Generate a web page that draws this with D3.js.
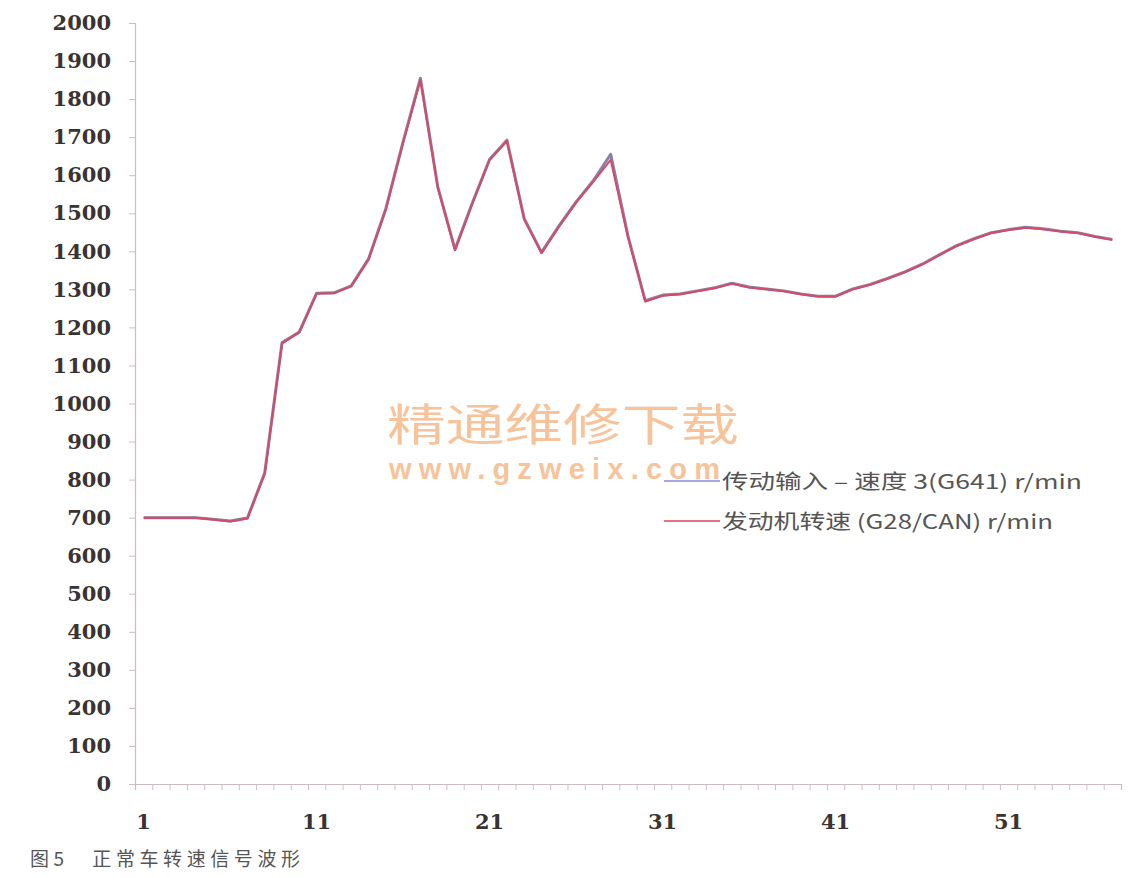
<!DOCTYPE html>
<html>
<head>
<meta charset="utf-8">
<script src="https://cdn.jsdelivr.net/npm/d3@7"></script>
<style>
  html, body { margin: 0; padding: 0; background: #fff; }
  svg { display: block; }
</style>
</head>
<body>
<svg id="chart" width="1128" height="878"></svg>
<script>
// ---- data ----
const categories = [1,2,3,4,5,6,7,8,9,10,11,12,13,14,15,16,17,18,19,20,21,22,23,24,25,26,27,28,29,30,31,32,33,34,35,36,37,38,39,40,41,42,43,44,45,46,47,48,49,50,51,52,53,54,55,56,57];
const transmissionSpeed = [700,700,700,700,696,691,699,818,1160,1188,1290,1291,1309,1380,1512,1688,1855,1570,1405,1527,1642,1692,1486,1397,1466,1530,1586,1655,1440,1270,1285,1288,1296,1304,1316,1306,1301,1296,1288,1282,1282,1301,1313,1329,1346,1366,1391,1415,1433,1449,1457,1463,1459,1453,1449,1439,1431];
const engineSpeed = [700,700,700,700,695,690,698,815,1158,1187,1289,1290,1308,1378,1510,1685,1850,1568,1403,1525,1640,1690,1484,1395,1464,1528,1583,1640,1437,1268,1283,1287,1295,1303,1315,1305,1300,1295,1287,1281,1281,1300,1312,1328,1345,1365,1390,1414,1432,1448,1456,1462,1458,1452,1448,1438,1430];
const seriesNames = ["传动输入 – 速度 3(G641) r/min", "发动机转速 (G28/CAN) r/min"];
const yTicks = [0,100,200,300,400,500,600,700,800,900,1000,1100,1200,1300,1400,1500,1600,1700,1800,1900,2000];
const xTickLabels = [1,11,21,31,41,51];
const caption = "图5　正常车转速信号波形";
const watermark1 = "精通维修下载";
const watermark2 = "www.gzweix.com";

// ---- layout ----
const svg = d3.select("#chart");
const axisColor = "#cfbcc0";
const x = d3.scaleLinear().domain([0.5, categories.length + 0.5]).range([135, 1121]);
const y = d3.scaleLinear().domain([0, 2000]).range([784, 23]);

// y axis
const yAxis = svg.append("g").attr("transform", `translate(${x(0.5)},0)`)
  .call(d3.axisLeft(y).tickValues(yTicks).tickSize(6).tickPadding(18).tickFormat(d3.format("d")));
yAxis.select(".domain").attr("stroke", axisColor).attr("stroke-width", 1.2);
yAxis.selectAll(".tick line").attr("stroke", axisColor);
yAxis.selectAll(".tick text")
  .attr("font-family", "DejaVu Serif")
  .attr("font-weight", "bold")
  .attr("font-size", 21)
  .attr("fill", "#3a3333");

// x axis
const boundaries = d3.range(0, categories.length + 1).map(i => i + 0.5);
const xAxis = svg.append("g").attr("transform", `translate(0,${y(0)})`)
  .call(d3.axisBottom(x).tickValues(boundaries).tickSize(6).tickFormat(""));
xAxis.select(".domain").attr("stroke", axisColor).attr("stroke-width", 1.2);
xAxis.selectAll(".tick line").attr("stroke", axisColor);

svg.append("g").selectAll("text").data(xTickLabels).join("text")
  .attr("x", d => x(d))
  .attr("y", 829)
  .attr("text-anchor", "middle")
  .attr("font-family", "DejaVu Serif")
  .attr("font-weight", "bold")
  .attr("font-size", 21)
  .attr("fill", "#3a3333")
  .text(d => d);

// watermark
svg.append("text")
  .attr("x", 387).attr("y", 441)
  .attr("font-family", "Noto Sans CJK SC")
  .attr("font-size", 44)
  .attr("fill", "#f7c39a")
  .attr("textLength", 352)
  .attr("lengthAdjust", "spacingAndGlyphs")
  .text(watermark1);
svg.append("text")
  .attr("x", 389).attr("y", 479)
  .attr("font-family", "Liberation Sans")
  .attr("font-weight", "bold")
  .attr("font-size", 29)
  .attr("fill", "#f7c39a")
  .attr("textLength", 331)
  .attr("lengthAdjust", "spacing")
  .text(watermark2);

// lines
const line = d3.line().x((d, i) => x(categories[i])).y(d => y(d));
svg.append("path").datum(transmissionSpeed)
  .attr("d", line).attr("fill", "none")
  .attr("stroke", "#8a80a8").attr("stroke-width", 3).attr("stroke-linejoin", "round");
svg.append("path").datum(engineSpeed)
  .attr("d", line).attr("fill", "none")
  .attr("stroke", "#d54a66").attr("stroke-width", 2).attr("stroke-linejoin", "round");

// legend
const legendColors = ["#a8a6e0", "#e27484"];
const legendY = [481, 521];
const legendLen = [360, 331];
seriesNames.forEach((name, i) => {
  svg.append("line")
    .attr("x1", 664).attr("x2", 720)
    .attr("y1", legendY[i]).attr("y2", legendY[i])
    .attr("stroke", legendColors[i]).attr("stroke-width", 2);
  svg.append("text")
    .attr("x", 722).attr("y", legendY[i] + 8)
    .attr("font-family", "Noto Sans CJK SC")
    .attr("font-size", 20)
    .attr("fill", "#555")
    .attr("textLength", legendLen[i])
    .attr("lengthAdjust", "spacingAndGlyphs")
    .text(name);
});

// caption
svg.append("text")
  .attr("x", 30).attr("y", 866)
  .attr("font-family", "Noto Sans CJK SC")
  .attr("font-size", 19)
  .attr("fill", "#555")
  .attr("textLength", 270)
  .attr("lengthAdjust", "spacing")
  .text(caption);
</script>
</body>
</html>
